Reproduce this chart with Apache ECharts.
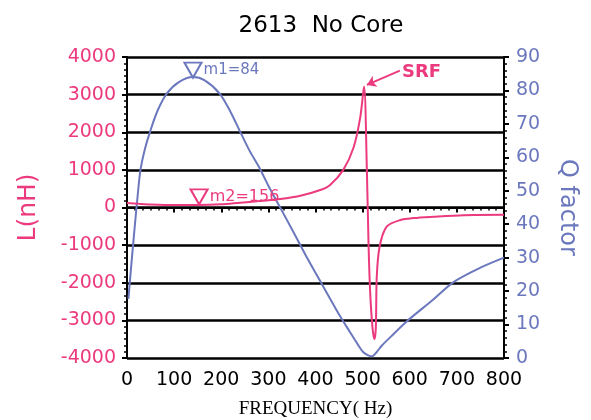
<!DOCTYPE html>
<html>
<head>
<meta charset="utf-8">
<script src="https://cdn.jsdelivr.net/npm/echarts@6/dist/echarts.min.js"></script>
<style>html,body{margin:0;padding:0;background:#fff;overflow:hidden}#c{width:591px;height:420px}</style>
</head>
<body>
<div id="c"></div>
<script>
const title = '2613  No Core';
const xTicks = [0, 100, 200, 300, 400, 500, 600, 700, 800];
const lTicks = [-4000, -3000, -2000, -1000, 0, 1000, 2000, 3000, 4000];
const qTicks = [0, 10, 20, 30, 40, 50, 60, 70, 80, 90];
// Q factor (right axis): [frequency, Q]
const qFactor = [[3,17.7],[8,26],[13,34],[24,50.6],[29,56.6],[38,62.5],[49,67.7],[65,74],[84,79],[110,82.5],[140,84],[165,83],[197,79],[220,73.5],[240,67.7],[260,62],[282,56.6],[300,51.5],[325,45],[350,38.5],[380,30.5],[410,23],[431,17.7],[450,13],[473,7.8],[490,4],[501,1.8],[512,0.8],[520,0.5],[530,1.8],[540,3.6],[560,6.4],[594,11],[650,17.5],[693,22.7],[750,27],[800,30]];
// Inductance L (left axis): [frequency, nH]
const inductance = [[0,120],[25,100],[50,82],[100,66],[150,66],[200,85],[240,128],[280,170],[325,226],[370,320],[410,465],[431,600],[459,1000],[481,1600],[495,2400],[503,3216],[509,1000],[512.6,-1000],[516,-2250],[521,-3200],[525,-3500],[528,-3200],[530,-1840],[536,-1043],[551,-510],[580,-333],[608,-280],[650,-245],[714,-205],[800,-195]];
const m1 = {f: 140, q: 84, text: 'm1=84'};
const m2 = {f: 153, l: 95, text: 'm2=156'};
const srf = {text: 'SRF', labelAt: [625, 3590], arrowFrom: [579, 3639], arrowTo: [509, 3258]};

const PINK = '#ec3a7e', BLUE = '#6b78bd';
const SANS = 'DejaVu Sans';
const chart = echarts.init(document.getElementById('c'));
const tri = 'path://M0,0 L10,0 L5,9 Z';
const plain = v => String(v);
chart.setOption({
  animation: false,
  title: {text: title, left: 316, top: 10, textAlign: 'center',
    textStyle: {fontFamily: SANS, fontSize: 23, fontWeight: 'normal', color: '#000'}},
  grid: {left: 127, top: 57, width: 377, height: 301, outerBoundsMode: 'none', containLabel: false},
  xAxis: {
    type: 'value', min: xTicks[0], max: xTicks[xTicks.length-1], interval: 100,
    name: 'FREQUENCY( Hz)', nameLocation: 'middle', nameGap: 42,
    nameTextStyle: {fontFamily: 'Liberation Serif', fontSize: 19, color: '#000'},
    axisLine: {lineStyle: {color: '#000', width: 2}},
    axisTick: {length: 5, lineStyle: {color: '#000', width: 2}},
    minorTick: {show: true, splitNumber: 6, length: 3, lineStyle: {color: '#000', width: 1.5}},
    axisLabel: {fontFamily: SANS, fontSize: 19, color: '#000', margin: 13, formatter: plain},
    splitLine: {show: false}
  },
  yAxis: [{
    type: 'value', min: lTicks[0], max: lTicks[lTicks.length-1], interval: 1000, position: 'left',
    name: 'L(nH)', nameLocation: 'middle', nameGap: 86,
    nameTextStyle: {fontFamily: SANS, fontSize: 25, color: PINK},
    axisLine: {show: true, lineStyle: {color: '#000', width: 2}},
    axisTick: {show: true, length: 5, lineStyle: {color: '#000', width: 2}},
    minorTick: {show: true, splitNumber: 6, length: 3, lineStyle: {color: '#000', width: 1.5}},
    axisLabel: {fontFamily: SANS, fontSize: 19, color: PINK, margin: 11, formatter: plain, padding: [5, 0, 0, 0]},
    splitLine: {show: true, lineStyle: {color: '#000', width: 2.6}}
  }, {
    type: 'value', min: qTicks[0], max: qTicks[qTicks.length-1], interval: 10, position: 'right',
    name: 'Q factor', nameLocation: 'middle', nameGap: 51, nameRotate: -90,
    nameTextStyle: {fontFamily: SANS, fontSize: 24, color: BLUE},
    axisLine: {show: true, lineStyle: {color: '#000', width: 2}},
    axisTick: {show: true, length: 5, lineStyle: {color: '#000', width: 2}},
    minorTick: {show: true, splitNumber: 5, length: 3, lineStyle: {color: '#000', width: 1.5}},
    axisLabel: {fontFamily: SANS, fontSize: 19, color: BLUE, margin: 12, formatter: plain, padding: [5, 0, 0, 0]},
    splitLine: {show: false}
  }],
  series: [{
    type: 'line', yAxisIndex: 1, data: qFactor, smooth: 0.3,
    showSymbol: false, lineStyle: {color: BLUE, width: 2}, itemStyle: {color: BLUE},
    markPoint: {
      data: [{coord: [m1.f, m1.q], symbol: tri, symbolSize: [17, 15], symbolOffset: [0, -7],
        itemStyle: {color: 'rgba(0,0,0,0)', borderColor: BLUE, borderWidth: 2},
        label: {show: true, position: 'right', distance: 1, formatter: m1.text,
          fontFamily: SANS, fontSize: 15, color: BLUE}}]
    }
  }, {
    type: 'line', yAxisIndex: 0, data: inductance, smooth: 0.3,
    showSymbol: false, lineStyle: {color: PINK, width: 2}, itemStyle: {color: PINK},
    markPoint: {
      data: [{coord: [m2.f, m2.l], symbol: tri, symbolSize: [17, 15], symbolOffset: [0, -7],
        itemStyle: {color: 'rgba(0,0,0,0)', borderColor: PINK, borderWidth: 2},
        label: {show: true, position: 'right', distance: 1, formatter: m2.text,
          fontFamily: SANS, fontSize: 16, color: PINK}},
        {coord: srf.labelAt, symbol: 'circle', symbolSize: 1, itemStyle: {color: 'rgba(0,0,0,0)'},
        label: {show: true, position: 'inside', formatter: srf.text,
          fontFamily: SANS, fontSize: 18, fontWeight: 'bold', color: PINK}}]
    },
    markLine: {
      silent: true, symbol: ['none', 'arrow'], symbolSize: 9,
      lineStyle: {color: PINK, width: 2, type: 'solid'}, label: {show: false},
      data: [[{coord: srf.arrowFrom}, {coord: srf.arrowTo}]]
    }
  }]
});
</script>
</body>
</html>
